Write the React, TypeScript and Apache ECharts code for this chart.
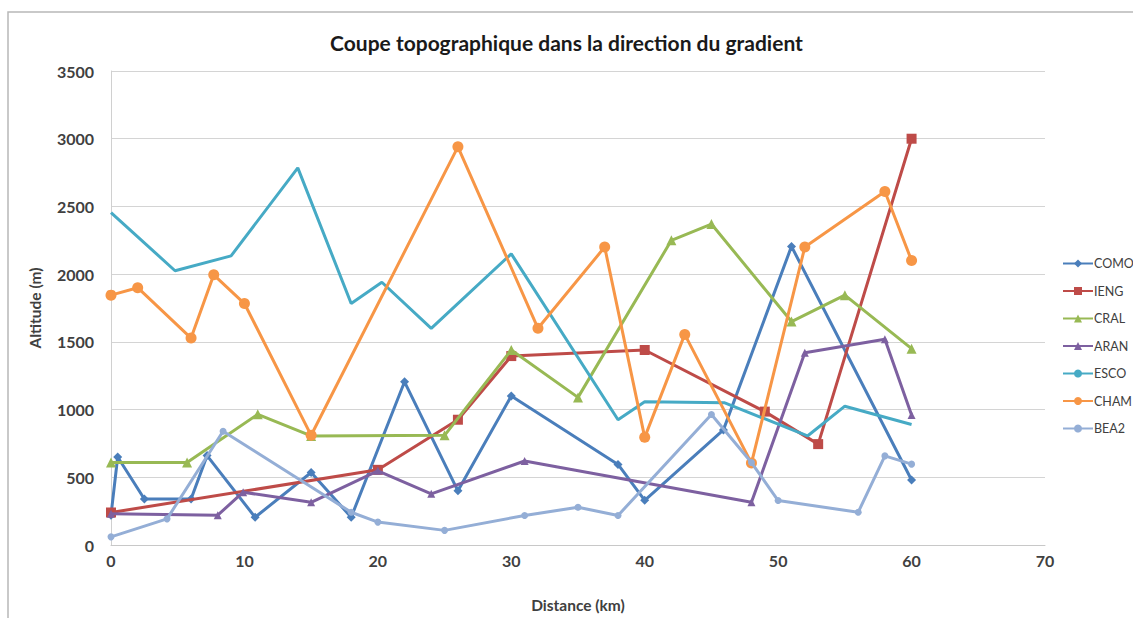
import React, { useEffect, useRef } from "react";
import * as echarts from "echarts";

const seriesNames = ["COMO", "IENG", "CRAL", "ARAN", "ESCO", "CHAM", "BEA2"];

const comoX = [0, 0.5, 2.5, 6, 7.2, 10.8, 15, 18, 22, 26, 30, 38, 40, 45.9, 51, 60];
const comoY = [220, 650, 340, 340, 660, 205, 535, 205, 1205, 400, 1100, 595, 330, 850, 2205, 480];

const iengX = [0, 20, 26, 30, 40, 49, 53, 60];
const iengY = [240, 555, 925, 1395, 1440, 985, 745, 3000];

const cralX = [0, 5.7, 11, 15, 25, 30, 35, 42, 45, 51, 55, 60];
const cralY = [610, 610, 965, 805, 810, 1440, 1090, 2250, 2370, 1650, 1845, 1450];

const aranX = [0, 8, 9.9, 15, 20, 24, 31, 48, 52, 58, 60];
const aranY = [230, 220, 390, 315, 548, 378, 620, 315, 1420, 1520, 960];

const escoX = [0, 4.8, 9, 14, 18, 20.3, 24, 30, 38, 40, 46, 52.2, 55, 60];
const escoY = [2455, 2025, 2135, 2785, 1783, 1940, 1600, 2150, 925, 1058, 1050, 805, 1025, 890];

const chamX = [0, 2, 6, 7.7, 10, 15, 26, 32, 37, 40, 43, 48, 52, 58, 60];
const chamY = [1845, 1900, 1528, 1995, 1783, 810, 2940, 1600, 2200, 795, 1555, 605, 2200, 2610, 2100];

const bea2X = [0, 4.2, 8.4, 18, 20, 25, 31, 35, 38, 45, 48, 50, 56, 58, 60];
const bea2Y = [60, 193, 840, 242, 169, 108, 218, 279, 218, 963, 609, 328, 242, 658, 597];

const xTicks = [0, 10, 20, 30, 40, 50, 60, 70];
const yTicks = [0, 500, 1000, 1500, 2000, 2500, 3000, 3500];

const colors = ["#4a7ebb", "#be4b48", "#98b954", "#7d60a0", "#46aac5", "#f79646", "#94aed6"];
const symbols = ["diamond", "rect", "triangle", "triangle", "none", "circle", "circle"];
const symbolSizes = [9, 10, 10, 8, 6, 11, 7];

const allX = [comoX, iengX, cralX, aranX, escoX, chamX, bea2X];
const allY = [comoY, iengY, cralY, aranY, escoY, chamY, bea2Y];

export default function App() {
  const ref = useRef<HTMLDivElement>(null);
  useEffect(() => {
    const chart = echarts.init(ref.current!, null, { renderer: "svg" });
    const font = "Lato, 'Open Sans', sans-serif";
    chart.setOption({
      animation: false,
      backgroundColor: "#ffffff",
      textStyle: { fontFamily: font },
      title: {
        text: "Coupe topographique dans la direction du gradient",
        left: "center",
        top: 27,
        textStyle: { fontFamily: font, fontSize: 21, fontWeight: "bold", color: "#1a1a1a" },
      },
      graphic: [
        {
          type: "rect",
          shape: { x: 8, y: 12, width: 1140, height: 620 },
          style: { fill: "none", stroke: "#b8b8b8", lineWidth: 1.5 },
          silent: true,
        },
      ],
      grid: { left: 111, right: 88, top: 71, bottom: 70, containLabel: false },
      legend: {
        orient: "vertical",
        left: 1057,
        top: 252,
        itemWidth: 30,
        itemHeight: 10,
        itemGap: 14.5,
        textStyle: { fontFamily: font, fontSize: 12.5, color: "#404040", padding: [0, 0, 0, -4] },
        data: seriesNames,
      },
      xAxis: {
        type: "value",
        min: 0,
        max: 70,
        interval: 10,
        name: "Distance (km)",
        nameLocation: "middle",
        nameGap: 52,
        nameTextStyle: { fontFamily: font, fontSize: 15.5, fontWeight: "bold", color: "#404040" },
        axisLine: { show: true, lineStyle: { color: "#c8c8c8" } },
        axisTick: { show: false },
        splitLine: { show: false },
        axisLabel: {
          fontFamily: font,
          fontSize: 16,
          fontWeight: "bold",
          color: "#404040",
          margin: 7,
          customValues: xTicks,
          formatter: (v: number) => String(v),
        },
      },
      yAxis: {
        type: "value",
        min: 0,
        max: 3500,
        interval: 500,
        name: "Altitude (m)",
        nameLocation: "middle",
        nameRotate: 90,
        nameGap: 68,
        nameTextStyle: { fontFamily: font, fontSize: 15.5, fontWeight: "bold", color: "#404040" },
        axisLine: { show: true, lineStyle: { color: "#d0d0d0" } },
        axisTick: { show: false },
        splitLine: { show: true, lineStyle: { color: "#d4d4d4", width: 1 } },
        axisLabel: {
          fontFamily: font,
          fontSize: 16,
          fontWeight: "bold",
          color: "#404040",
          margin: 17,
          customValues: yTicks,
          formatter: (v: number) => String(v),
        },
      },
      series: seriesNames.map((name, i) => ({
        name,
        type: "line",
        data: allX[i].map((x, j) => [x, allY[i][j]]),
        symbol: symbols[i],
        symbolSize: symbolSizes[i],
        showSymbol: symbols[i] !== "none",
        lineStyle: { color: colors[i], width: 3 },
        itemStyle: { color: colors[i] },
        z: 2 + i,
      })),
    });
    return () => chart.dispose();
  }, []);
  return (
    <div
      ref={ref}
      style={{ position: "fixed", left: 0, top: 0, width: 1133, height: 618 }}
    />
  );
}
